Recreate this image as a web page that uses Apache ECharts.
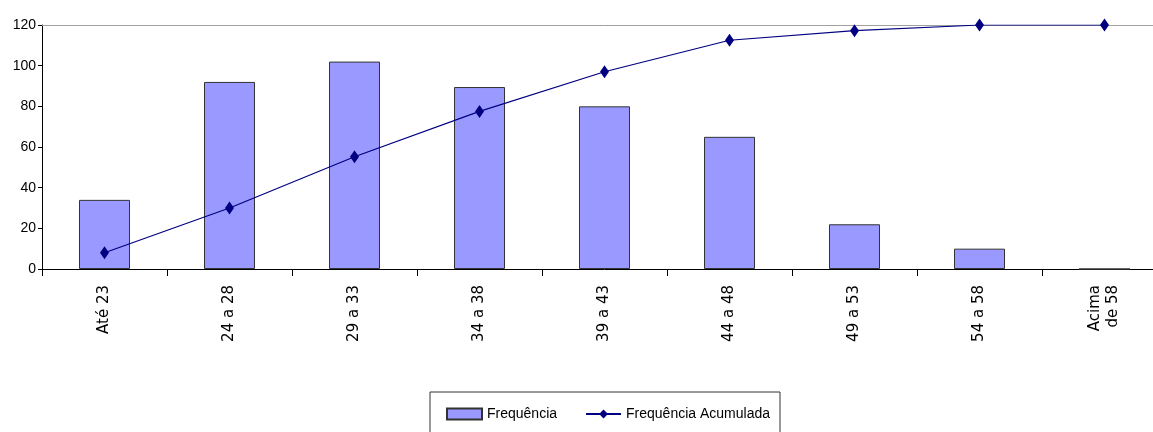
<!DOCTYPE html>
<html>
<head>
<meta charset="utf-8">
<script src="https://cdn.jsdelivr.net/npm/echarts@6/dist/echarts.min.js"></script>
<style>
html,body{margin:0;padding:0;background:#fff;overflow:hidden;width:1153px;height:432px;}
#chart{width:1167px;height:432px;}
</style>
</head>
<body>
<div id="chart"></div>
<script>
var categories = ['Até 23', '24 a 28', '29 a 33', '34 a 38', '39 a 43', '44 a 48', '49 a 53', '54 a 58', 'Acima\nde 58'];
var frequencia = [34, 92, 102, 89.5, 80, 65, 22, 10, 0];
var frequenciaAcumulada = [8, 30, 55.2, 77.5, 97, 112.5, 117.2, 120, 120];
var yTicks = [0, 20, 40, 60, 80, 100, 120];

var chart = echarts.init(document.getElementById('chart'), null, {renderer: 'canvas'});
chart.setOption({
  animation: false,
  backgroundColor: '#ffffff',
  textStyle: {fontFamily: 'Liberation Sans, Arial, sans-serif'},
  grid: {left: 42, top: 25, right: 0, height: 244, containLabel: false},
  legend: {
    top: 392,
    left: 430,
    orient: 'horizontal',
    padding: [15, 10, 15, 16],
    borderColor: '#333333',
    borderWidth: 1,
    itemWidth: 35,
    itemHeight: 11,
    itemGap: 28,
    textStyle: {fontSize: 14, color: '#000', fontFamily: 'Liberation Sans, Arial, sans-serif'},
    data: [
      {name: 'Frequência', icon: 'rect'},
      {name: 'Frequência Acumulada'}
    ]
  },
  xAxis: [{
    type: 'category',
    data: categories,
    boundaryGap: true,
    axisLine: {show: true, lineStyle: {color: '#000', width: 1}},
    axisTick: {show: true, alignWithLabel: false, length: 7, lineStyle: {color: '#000'}},
    axisLabel: {
      rotate: 90,
      interval: 0,
      margin: 16,
      fontSize: 15,
      lineHeight: 18,
      color: '#000',
      fontFamily: 'DejaVu Sans, sans-serif'
    }
  }, {
    type: 'category',
    data: categories,
    position: 'top',
    axisLine: {show: true, lineStyle: {color: '#a0a0a0', width: 1}},
    axisTick: {show: false},
    axisLabel: {show: false}
  }],
  yAxis: {
    type: 'value',
    min: 0,
    max: 120,
    interval: 20,
    axisLine: {show: true, lineStyle: {color: '#000', width: 1}},
    axisTick: {show: true, length: 4, lineStyle: {color: '#000'}},
    splitLine: {show: false},
    axisLabel: {
      margin: 6,
      fontSize: 14,
      color: '#000',
      formatter: function (v) { return yTicks.indexOf(v) >= 0 ? String(v) : ''; }
    }
  },
  series: [{
    name: 'Frequência',
    type: 'bar',
    data: frequencia,
    barWidth: 51,
    itemStyle: {color: '#9999ff', borderColor: '#333333', borderWidth: 1}
  }, {
    name: 'Frequência Acumulada',
    type: 'line',
    data: frequenciaAcumulada,
    symbol: 'diamond',
    symbolSize: [9, 13],
    showAllSymbol: true,
    lineStyle: {color: '#000080', width: 1.2},
    itemStyle: {color: '#000080'},
    z: 5
  }]
});
</script>
</body>
</html>
